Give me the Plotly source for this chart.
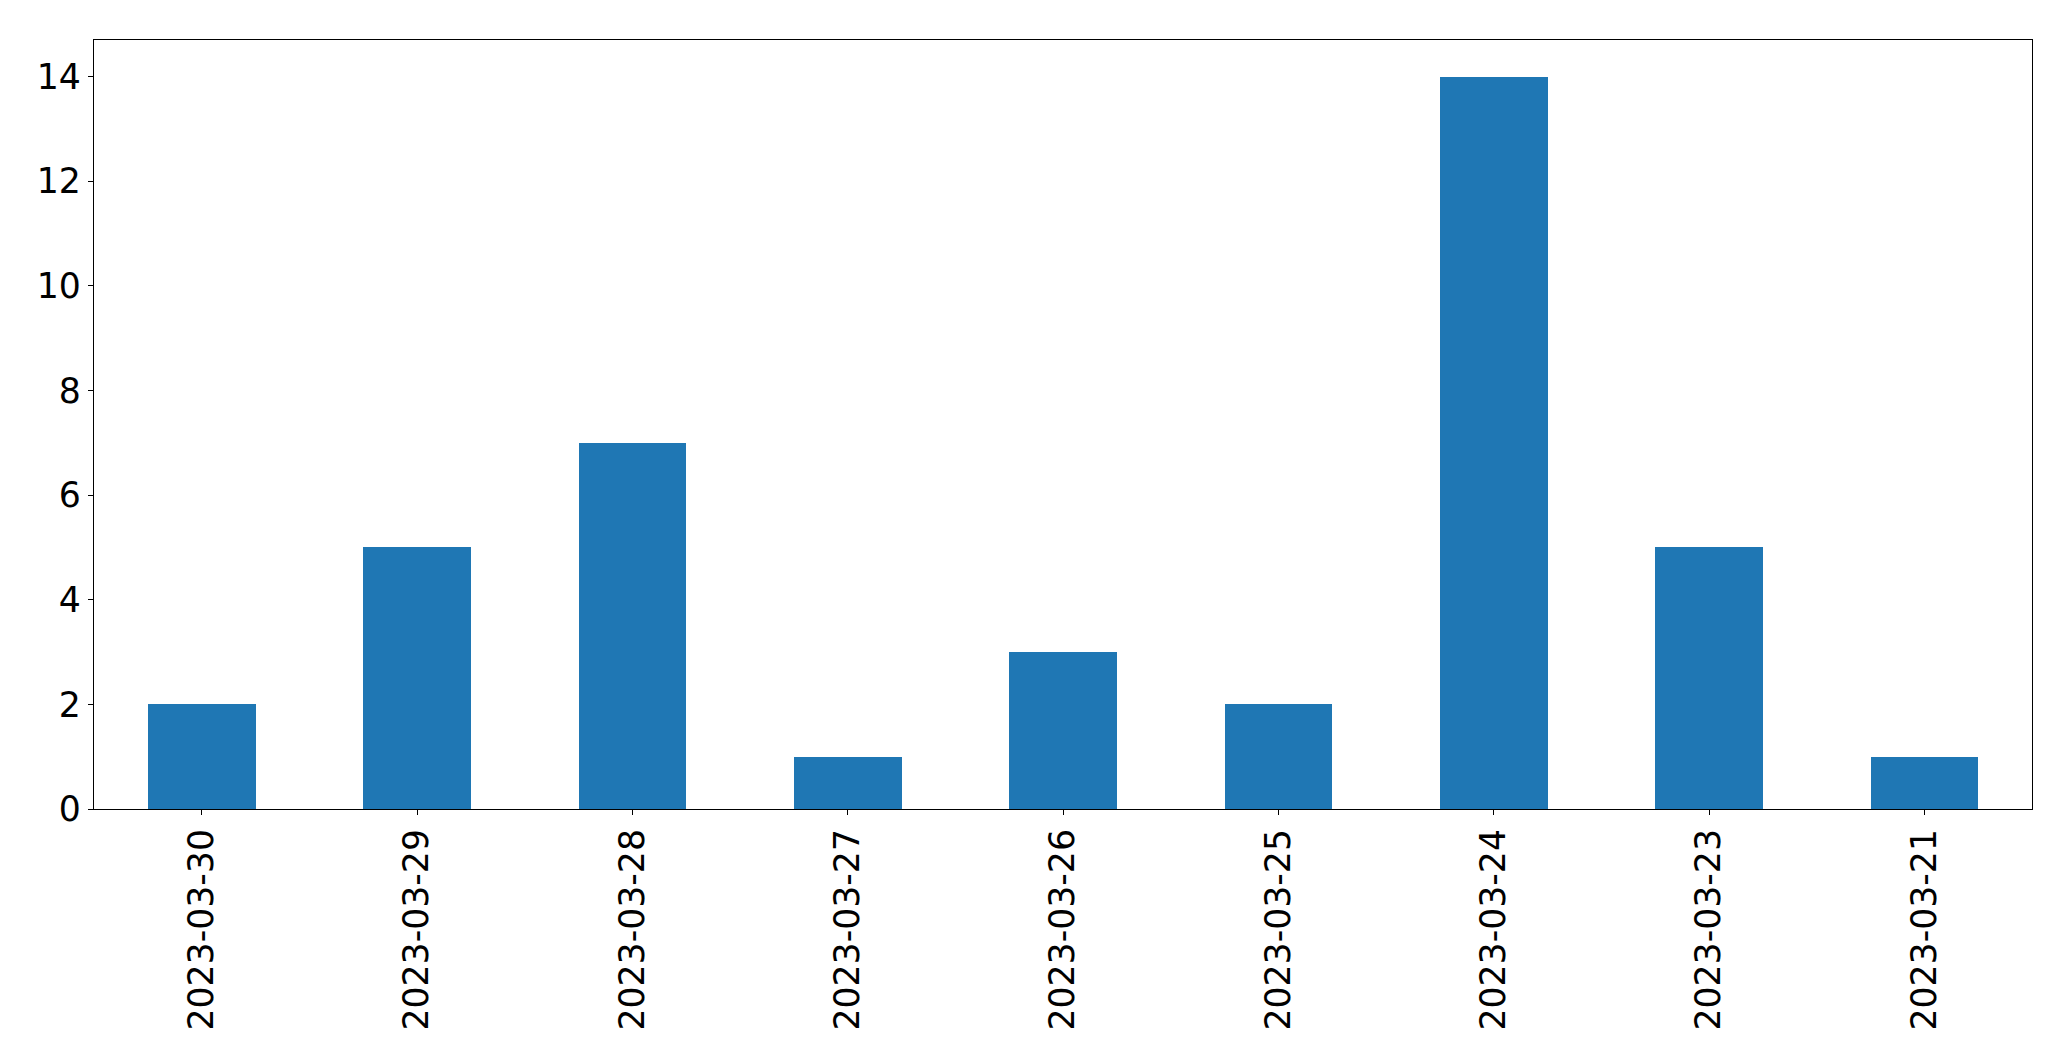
import plotly.graph_objects as go

dates = ["2023-03-30", "2023-03-29", "2023-03-28", "2023-03-27", "2023-03-26",
         "2023-03-25", "2023-03-24", "2023-03-23", "2023-03-21"]
counts = [2, 5, 7, 1, 3, 2, 14, 5, 1]
y_ticks = [0, 2, 4, 6, 8, 10, 12, 14]

fig = go.Figure(go.Bar(x=dates, y=counts, width=0.5, marker_color="#1f77b4",
                       marker_line_width=0))

axis_common = dict(showline=True, linecolor="black", linewidth=1.3, mirror=True,
                   showgrid=False, zeroline=False, ticks="outside", ticklen=5,
                   tickcolor="black", tickwidth=1.3,
                   tickfont=dict(family="DejaVu Sans", size=34.7, color="black"))

fig.update_layout(
    width=2063, height=1053,
    margin=dict(l=86, r=39, t=32, b=252, autoexpand=False),
    paper_bgcolor="white", plot_bgcolor="white",
    showlegend=False,
    bargap=0,
    xaxis=dict(type="category", range=[-0.5, 8.5], tickangle=-90, automargin=False,
               **axis_common),
    yaxis=dict(range=[0, 14.7], tickvals=y_ticks, automargin=False, **axis_common),
)

fig.write_html("out.html")
